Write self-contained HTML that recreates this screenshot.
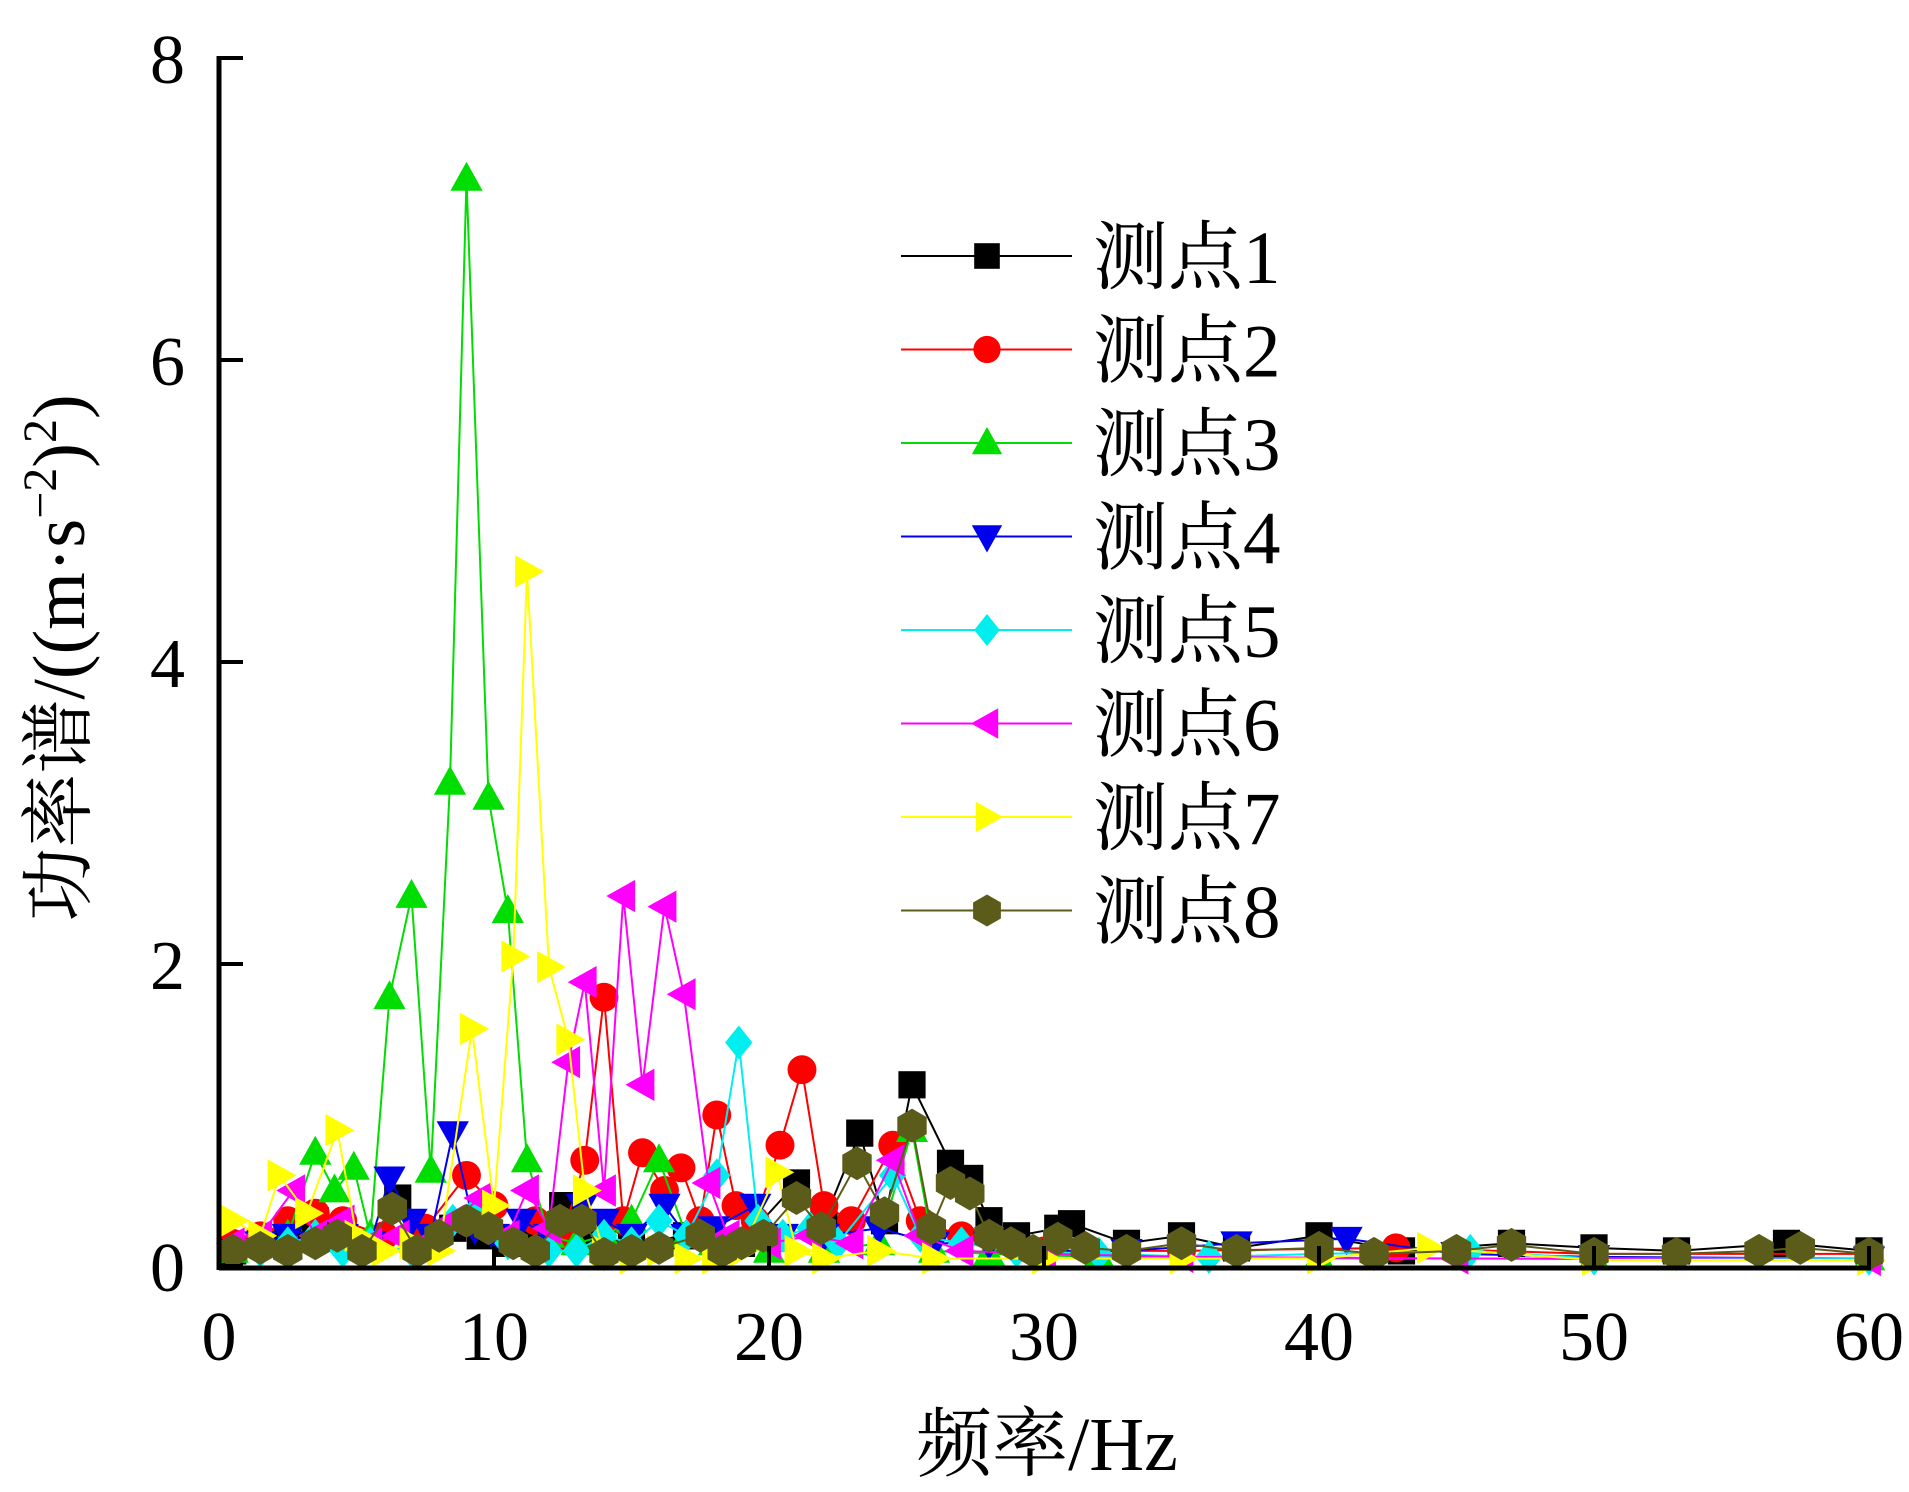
<!DOCTYPE html>
<html><head><meta charset="utf-8"><style>
html,body{margin:0;padding:0;background:#fff}
svg{display:block}
text{font-family:"Liberation Serif","Noto Serif CJK SC",serif;fill:#000}
</style></head><body>
<svg id="chart" width="1909" height="1492" viewBox="0 0 1909 1492" xmlns="http://www.w3.org/2000/svg">
<g id="plot"></g>
<g id="axes"></g>
<g id="legend"></g>
<text transform="translate(84,658) rotate(-90)" text-anchor="middle" font-size="74">功率谱/((m·s<tspan font-size="48" dy="-28">−2</tspan><tspan dy="28">)</tspan><tspan font-size="48" dy="-28">2</tspan><tspan dy="28">)</tspan></text>
<text x="1047" y="1470" text-anchor="middle" font-size="76">频率/Hz</text>
</svg>
<script>
const xTicks=[0,10,20,30,40,50,60];
const yTicks=[0,2,4,6,8];
const seriesNames=["测点1","测点2","测点3","测点4","测点5","测点6","测点7","测点8"];
const seriesColors=["#000000","#ff0000","#00dd00","#0000ee","#00eeee","#ff00ff","#ffff00","#5c5c1a"];
const seriesMarkers=["square","circle","tri-up","tri-down","diamond","tri-left","tri-right","hexagon"];
const f1=[0.5,1.5,2.5,3.5,4.5,5.5,6.5,7.5,8.5,9.5,10.5,11.5,12.5,13.5,15,17,19,21,22,23.3,24.2,25.2,26.6,27.3,28,29,30.5,31,33,35,37,40,43,47,50,53,57,60];
const v1=[0.1,0.15,0.2,0.3,0.2,0.15,0.45,0.2,0.25,0.2,0.15,0.2,0.4,0.2,0.15,0.2,0.15,0.55,0.3,0.88,0.3,1.2,0.68,0.58,0.3,0.2,0.25,0.28,0.15,0.2,0.12,0.2,0.1,0.15,0.12,0.1,0.15,0.1];
const f2=[0.5,1.5,2.5,3.5,4.5,6,7.5,9,10,11.5,12.5,13.3,14,14.7,15.4,16.2,16.8,17.5,18.1,18.8,19.5,20.4,21.2,22,23,24.5,25.5,27,30,35,42.8,50,60];
const v2=[0.15,0.2,0.3,0.35,0.3,0.2,0.25,0.6,0.4,0.3,0.2,0.7,1.78,0.3,0.75,0.5,0.65,0.3,1.0,0.4,0.3,0.8,1.3,0.4,0.3,0.8,0.3,0.2,0.1,0.1,0.12,0.08,0.08];
const f3=[0.5,1.5,2.5,3.5,4.2,4.9,5.5,6.2,7.0,7.7,8.4,9.0,9.8,10.5,11.2,12,13,14,15,16,17,18,20,22,24,25.2,26,28,32,40,50,60];
const v3=[0.1,0.15,0.2,0.75,0.5,0.65,0.2,1.78,2.45,0.63,3.2,7.2,3.1,2.35,0.7,0.2,0.15,0.2,0.3,0.7,0.2,0.15,0.1,0.1,0.15,0.9,0.1,0.08,0.06,0.05,0.05,0.05];
const f4=[0.5,1.5,2.5,3.5,4.5,5.5,6.2,7,7.7,8.5,9.3,10,11,12,13.2,14,15,16.2,17,18,19.5,20.5,22,24,26,28,30,33,37,41,45,50,60];
const v4=[0.1,0.15,0.2,0.15,0.2,0.15,0.58,0.3,0.2,0.88,0.25,0.2,0.3,0.2,0.4,0.3,0.2,0.4,0.2,0.25,0.4,0.2,0.2,0.25,0.15,0.15,0.1,0.1,0.15,0.18,0.08,0.06,0.05];
const f5=[0.5,1.5,2.5,3.5,4.5,5.5,7,8.5,9.5,10.5,12,13,14,15,16,17,18.1,18.9,19.6,20.5,21.5,22.5,24.5,25.5,27,29,32,36,40,45.5,50,60];
const v5=[0.1,0.1,0.15,0.2,0.1,0.15,0.1,0.3,0.4,0.15,0.1,0.1,0.2,0.15,0.3,0.2,0.6,1.48,0.3,0.2,0.25,0.15,0.6,0.2,0.15,0.1,0.08,0.06,0.08,0.1,0.05,0.05];
const f6=[0.5,1.5,2.7,3.5,4.5,5.5,6.5,7.5,8.5,9.5,10.5,11.2,12,12.7,13.3,14,14.7,15.4,16.2,16.9,17.8,18.5,20,21.5,23,24.5,25.5,27,30,35,45,60];
const v6=[0.15,0.2,0.5,0.2,0.3,0.15,0.2,0.15,0.3,0.45,0.2,0.5,0.25,1.35,1.88,0.5,2.45,1.2,2.38,1.8,0.55,0.2,0.15,0.2,0.15,0.7,0.2,0.1,0.08,0.06,0.05,0.04];
const f7=[0.5,1.5,2.2,3.2,4.3,5,6,7,8,9.2,10,10.7,11.2,12,12.7,13.3,14,15,16,17,18,19,20.3,21,22,24,26,30,35,40,44,50,60];
const v7=[0.3,0.2,0.6,0.35,0.9,0.2,0.1,0.15,0.1,1.57,0.4,2.05,4.6,1.98,1.5,0.5,0.1,0.05,0.1,0.05,0.05,0.1,0.62,0.1,0.05,0.1,0.05,0.05,0.05,0.05,0.12,0.04,0.04];
const f8=[0.5,1.5,2.5,3.5,4.3,5.2,6.3,7.2,8,9,9.8,10.7,11.5,12.4,13.2,14,15,16,17.5,18.3,19,19.8,21,21.9,23.2,24.2,25.2,25.9,26.6,27.3,28,28.8,29.6,30.5,31.5,33,35,37,40,42,45,47,50,53,56,57.5,60];
const v8=[0.1,0.12,0.1,0.15,0.2,0.1,0.38,0.1,0.2,0.3,0.25,0.15,0.1,0.3,0.3,0.08,0.1,0.12,0.2,0.1,0.15,0.2,0.45,0.25,0.68,0.35,0.93,0.25,0.55,0.48,0.2,0.15,0.1,0.18,0.12,0.1,0.15,0.1,0.12,0.08,0.1,0.14,0.08,0.08,0.1,0.12,0.08];
const seriesX=[f1,f2,f3,f4,f5,f6,f7,f8];
const seriesY=[v1,v2,v3,v4,v5,v6,v7,v8];
const drawOrder=[0,1,2,3,4,5,6,7];

const NS="http://www.w3.org/2000/svg";
const X0=219,X1=1869,Y0=1266,Y1=58;
function sx(v){return X0+(v-0)/(60-0)*(X1-X0);}
function sy(v){return Y0-(v-0)/(8-0)*(Y0-Y1);}
function mk(tag,attrs,parent){const e=document.createElementNS(NS,tag);for(const k in attrs)e.setAttribute(k,attrs[k]);parent.appendChild(e);return e;}
function markerPts(type,cx,cy,r){
  let pts=[];
  if(type==="tri-up")pts=[[cx,cy-r],[cx+r*0.95,cy+r*0.7],[cx-r*0.95,cy+r*0.7]];
  else if(type==="tri-down")pts=[[cx,cy+r],[cx+r*0.95,cy-r*0.7],[cx-r*0.95,cy-r*0.7]];
  else if(type==="tri-left")pts=[[cx-r,cy],[cx+r*0.7,cy-r*0.95],[cx+r*0.7,cy+r*0.95]];
  else if(type==="tri-right")pts=[[cx+r,cy],[cx-r*0.7,cy-r*0.95],[cx-r*0.7,cy+r*0.95]];
  else if(type==="diamond")pts=[[cx,cy-r],[cx+r*0.8,cy],[cx,cy+r],[cx-r*0.8,cy]];
  else if(type==="hexagon"){for(let i=0;i<6;i++){const a=Math.PI/6+i*Math.PI/3;pts.push([cx+r*Math.cos(a),cy+r*Math.sin(a)]);}}
  return pts.map(p=>p[0].toFixed(1)+","+p[1].toFixed(1)).join(" ");
}
function drawMarker(type,cx,cy,color,parent,r){
  let el;
  if(type==="square")el=mk("rect",{x:cx-r*0.8,y:cy-r*0.8,width:r*1.6,height:r*1.6,fill:color},parent);
  else if(type==="circle")el=mk("circle",{cx:cx,cy:cy,r:r*0.85,fill:color},parent);
  else el=mk("polygon",{points:markerPts(type,cx,cy,r),fill:color},parent);
  return el;
}
const plot=document.getElementById("plot");
drawOrder.forEach(si=>{
  const g=mk("g",{},plot);
  
  
  const xs=seriesX[si],ys=seriesY[si];
  const d=xs.map((x,i)=>(i?"L":"M")+sx(x).toFixed(1)+","+sy(ys[i]).toFixed(1)).join(" ");
  const ln=mk("path",{d:d,fill:"none",stroke:seriesColors[si],"stroke-width":2},g);
  
  
  xs.forEach((x,i)=>{
    const m=drawMarker(seriesMarkers[si],sx(x),sy(ys[i]),seriesColors[si],g,17);
    
    
  });
});
const axes=document.getElementById("axes");
const xl=mk("line",{x1:X0,y1:Y0+2,x2:X1+2,y2:Y0+2,stroke:"#000","stroke-width":5},axes);

const yl=mk("line",{x1:X0,y1:Y1-2,x2:X0,y2:Y0+4,stroke:"#000","stroke-width":5},axes);

xTicks.forEach(t=>{
  const x=sx(t);
  const tk=mk("line",{x1:x,y1:Y0,x2:x,y2:Y0-20,stroke:"#000","stroke-width":4},axes);
  
  const tx=mk("text",{x:x,y:1360,"text-anchor":"middle","font-size":70},axes);
  tx.textContent=t;
  
});
yTicks.forEach(t=>{
  const y=sy(t);
  const tk=mk("line",{x1:X0,y1:y,x2:X0+24,y2:y,stroke:"#000","stroke-width":4},axes);
  
  const tx=mk("text",{x:185,y:y+25,"text-anchor":"end","font-size":70},axes);
  tx.textContent=t;
  
});
const legend=document.getElementById("legend");
seriesNames.forEach((n,i)=>{
  const y=256+i*93.5;
  const g=mk("g",{},legend);
  
  
  mk("line",{x1:901,y1:y,x2:1072,y2:y,stroke:seriesColors[i],"stroke-width":2},g);
  drawMarker(seriesMarkers[i],987,y,seriesColors[i],g,16);
  const t=mk("text",{x:1093,y:y+27,"font-size":75},g);
  t.textContent=n;
});
</script>
</body></html>
